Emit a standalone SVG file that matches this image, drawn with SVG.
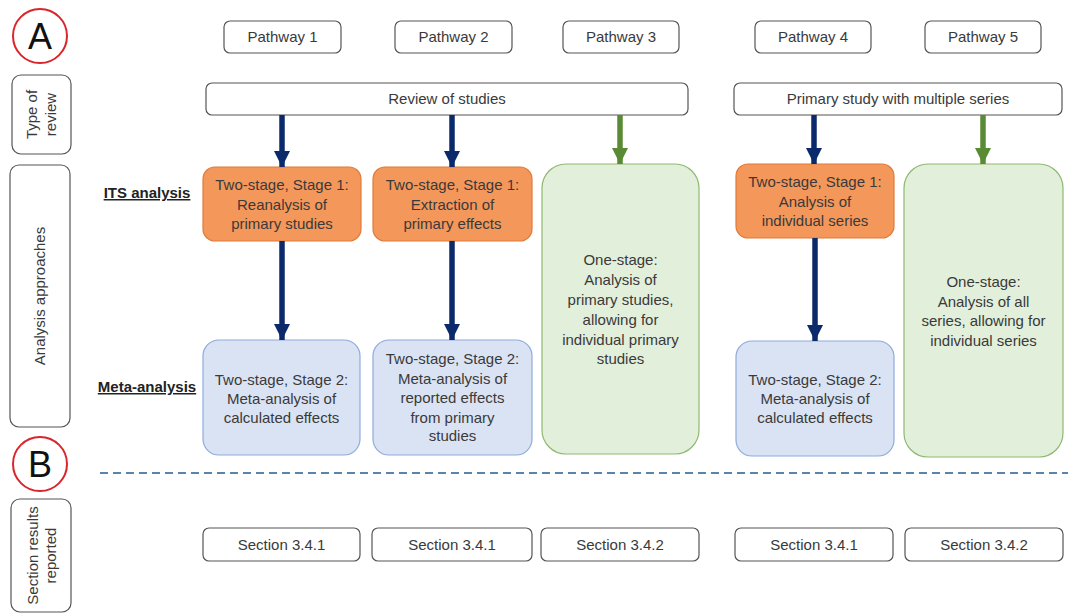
<svg xmlns="http://www.w3.org/2000/svg" width="1070" height="613" viewBox="0 0 1070 613">
<defs>
<style>
text{font-family:"Liberation Sans",Arial,sans-serif;font-size:15px;fill:#3a3a3a;text-anchor:middle}
.w{fill:#fff;stroke:#555;stroke-width:1.2}
.o{fill:#f4975a;stroke:#e07b39;stroke-width:1.2}
.b{fill:#dae3f3;stroke:#8faadc;stroke-width:1.2}
.g{fill:#e2efda;stroke:#8fb870;stroke-width:1.2}
.c{fill:#fff;stroke:#d9262c;stroke-width:2}
.big{font-size:36px;fill:#111}
.lab{font-weight:bold;text-decoration:underline;fill:#222}
.an{stroke:#0b2a6b;stroke-width:5.5;fill:none}
.ag{stroke:#5a8a34;stroke-width:5.5;fill:none}
</style>
<marker id="mn" markerUnits="userSpaceOnUse" markerWidth="18" markerHeight="16" refX="16" refY="8" orient="auto"><path d="M0,0 L16,8 L0,16 Z" fill="#0b2a6b"/></marker>
<marker id="mg" markerUnits="userSpaceOnUse" markerWidth="18" markerHeight="16" refX="16" refY="8" orient="auto"><path d="M0,0 L16,8 L0,16 Z" fill="#5a8a34"/></marker>
</defs>
<rect width="1070" height="613" fill="#fff"/>

<g id="circleA"><circle class="c" cx="40" cy="36" r="27"/><text class="big" x="40" y="49">A</text></g>
<g id="circleB"><circle class="c" cx="40" cy="464" r="27"/><text class="big" x="40" y="477">B</text></g>

<g id="typeReview"><rect class="w" x="12" y="75" width="59" height="79" rx="9"/>
<text transform="translate(41,114.5) rotate(-90)"><tspan x="0" y="-4">Type of</tspan><tspan x="0" y="15">review</tspan></text></g>
<g id="analysisApproaches"><rect class="w" x="10" y="165" width="60" height="262" rx="9"/>
<text transform="translate(45,296) rotate(-90)" x="0" y="0">Analysis approaches</text></g>
<g id="sectionResults"><rect class="w" x="11" y="499" width="60" height="113" rx="9"/>
<text transform="translate(41,555.5) rotate(-90)"><tspan x="0" y="-3">Section results</tspan><tspan x="0" y="15">reported</tspan></text></g>

<g id="lblITS"><text class="lab" x="147" y="198">ITS analysis</text></g>
<g id="lblMeta"><text class="lab" x="147" y="392">Meta-analysis</text></g>

<g id="pw1"><rect class="w" x="224" y="21" width="117" height="32" rx="6"/><text x="282.5" y="42">Pathway 1</text></g>
<g id="pw2"><rect class="w" x="395" y="21" width="117" height="32" rx="6"/><text x="453.5" y="42">Pathway 2</text></g>
<g id="pw3"><rect class="w" x="563" y="21" width="116" height="32" rx="6"/><text x="621" y="42">Pathway 3</text></g>
<g id="pw4"><rect class="w" x="755" y="21" width="116" height="32" rx="6"/><text x="813" y="42">Pathway 4</text></g>
<g id="pw5"><rect class="w" x="925" y="21" width="116" height="32" rx="6"/><text x="983" y="42">Pathway 5</text></g>

<g id="review"><rect class="w" x="206" y="83" width="482" height="32" rx="6"/><text x="447" y="104">Review of studies</text></g>
<g id="primary"><rect class="w" x="734" y="83" width="328" height="32" rx="6"/><text x="898" y="104">Primary study with multiple series</text></g>

<g id="o1"><rect class="o" x="203" y="167" width="158" height="74" rx="12"/>
<text x="282" y="190">Two-stage, Stage 1:</text><text x="282" y="210">Reanalysis of</text><text x="282" y="229">primary studies</text></g>
<g id="o2"><rect class="o" x="373" y="167" width="159" height="74" rx="12"/>
<text x="452.5" y="190">Two-stage, Stage 1:</text><text x="452.5" y="210">Extraction of</text><text x="452.5" y="229">primary effects</text></g>
<g id="g3"><rect class="g" x="542" y="164" width="157" height="290" rx="24"/>
<text x="620.5" y="265">One-stage:</text><text x="620.5" y="285">Analysis of</text><text x="620.5" y="305">primary studies,</text><text x="620.5" y="325">allowing for</text><text x="620.5" y="345">individual primary</text><text x="620.5" y="364">studies</text></g>
<g id="o4"><rect class="o" x="736" y="164" width="158" height="74" rx="12"/>
<text x="815" y="187">Two-stage, Stage 1:</text><text x="815" y="207">Analysis of</text><text x="815" y="226">individual series</text></g>
<g id="g5"><rect class="g" x="904" y="164" width="159" height="293" rx="24"/>
<text x="983.5" y="287">One-stage:</text><text x="983.5" y="307">Analysis of all</text><text x="983.5" y="326">series, allowing for</text><text x="983.5" y="346">individual series</text></g>

<g id="b1"><rect class="b" x="203" y="340" width="157" height="115" rx="16"/>
<text x="281.5" y="385">Two-stage, Stage 2:</text><text x="281.5" y="404">Meta-analysis of</text><text x="281.5" y="423">calculated effects</text></g>
<g id="b2"><rect class="b" x="373" y="340" width="159" height="115" rx="16"/>
<text x="452.5" y="364">Two-stage, Stage 2:</text><text x="452.5" y="384">Meta-analysis of</text><text x="452.5" y="403">reported effects</text><text x="452.5" y="423">from primary</text><text x="452.5" y="441">studies</text></g>
<g id="b4"><rect class="b" x="736" y="341" width="158" height="115" rx="16"/>
<text x="815" y="385">Two-stage, Stage 2:</text><text x="815" y="404">Meta-analysis of</text><text x="815" y="423">calculated effects</text></g>

<g id="s1"><rect class="w" x="203" y="528" width="157" height="33" rx="6"/><text x="281.5" y="550">Section 3.4.1</text></g>
<g id="s2"><rect class="w" x="372" y="528" width="160" height="33" rx="6"/><text x="452" y="550">Section 3.4.1</text></g>
<g id="s3"><rect class="w" x="541" y="528" width="158" height="33" rx="6"/><text x="620" y="550">Section 3.4.2</text></g>
<g id="s4"><rect class="w" x="735" y="528" width="158" height="33" rx="6"/><text x="814" y="550">Section 3.4.1</text></g>
<g id="s5"><rect class="w" x="905" y="528" width="158" height="33" rx="6"/><text x="984" y="550">Section 3.4.2</text></g>

<g id="connectors">
<line class="an" x1="282" y1="115" x2="282" y2="167" marker-end="url(#mn)"/>
<line class="an" x1="452" y1="115" x2="452" y2="167" marker-end="url(#mn)"/>
<line class="ag" x1="620" y1="115" x2="620" y2="164" marker-end="url(#mg)"/>
<line class="an" x1="814" y1="115" x2="814" y2="164" marker-end="url(#mn)"/>
<line class="ag" x1="983" y1="115" x2="983" y2="164" marker-end="url(#mg)"/>
<line class="an" x1="282" y1="241" x2="282" y2="340" marker-end="url(#mn)"/>
<line class="an" x1="452" y1="241" x2="452" y2="340" marker-end="url(#mn)"/>
<line class="an" x1="815" y1="238" x2="815" y2="341" marker-end="url(#mn)"/>
<line x1="100" y1="473" x2="1068" y2="473" stroke="#5b84ad" stroke-width="2" stroke-dasharray="8,5"/>
</g>
</svg>
